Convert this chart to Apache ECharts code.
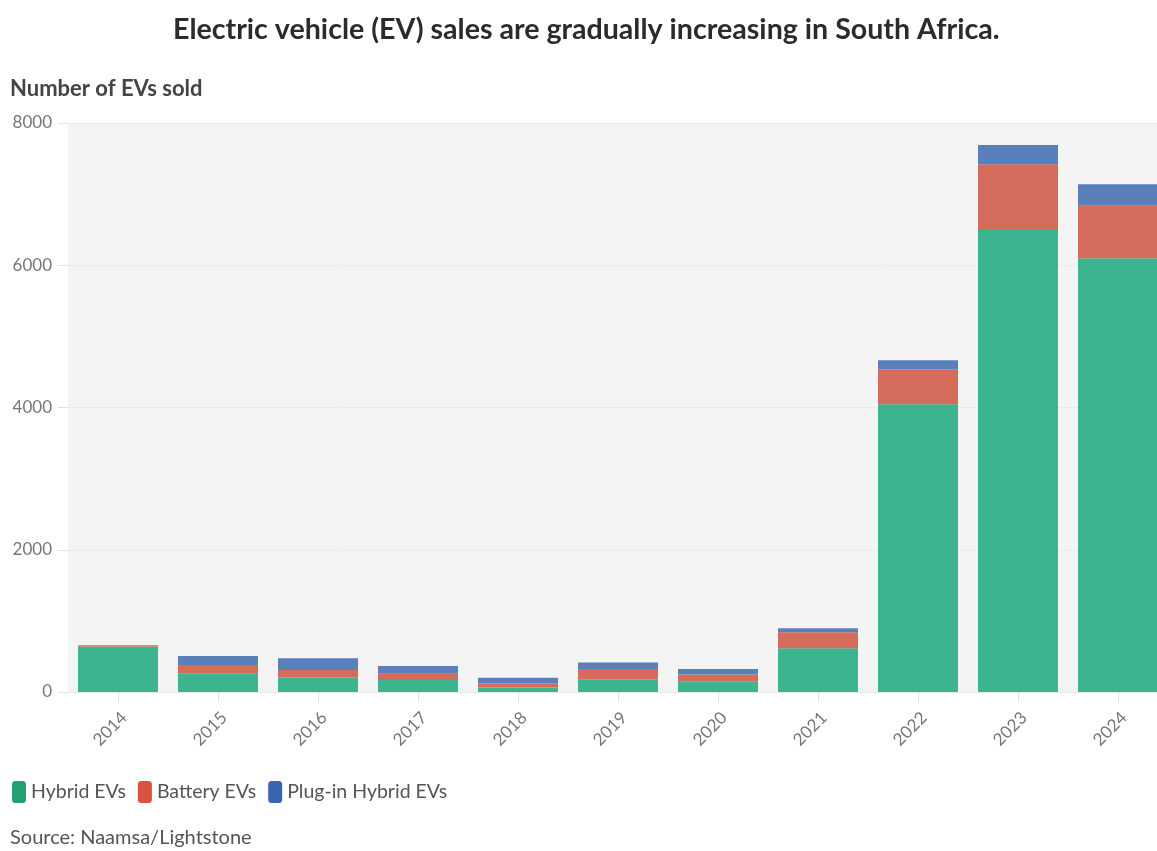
<!DOCTYPE html>
<html>
<head>
<meta charset="utf-8">
<script src="https://cdn.jsdelivr.net/npm/echarts@6/dist/echarts.min.js"></script>
<style>
  html, body { margin: 0; padding: 0; background: #fff; }
  #chart { width: 1157px; height: 851px; }
</style>
</head>
<body>
<div id="chart"></div>
<script>
// years on the x axis
var years = ["2014", "2015", "2016", "2017", "2018", "2019", "2020", "2021", "2022", "2023", "2024"];
// EV sales per type
var hybridEVs = [640, 265, 205, 170, 65, 180, 150, 615, 4045, 6495, 6100];
var batteryEVs = [15, 115, 105, 85, 55, 145, 95, 225, 490, 925, 735];
var pluginHybridEVs = [5, 125, 165, 110, 80, 90, 80, 55, 130, 270, 305];
var yTicks = [0, 2000, 4000, 6000, 8000];

var font = "Lato, 'Noto Sans', sans-serif";
var chart = echarts.init(document.getElementById("chart"));

var option = {
  animation: false,
  textStyle: { fontFamily: font },
  title: [
    {
      text: "Electric vehicle (EV) sales are gradually increasing in South Africa.",
      left: 168,
      top: 10,
      textStyle: { fontSize: 28.6, fontWeight: "bold", color: "#2b2b2b", fontFamily: font }
    },
    {
      text: "Number of EVs sold",
      left: 5,
      top: 73,
      textStyle: { fontSize: 22, fontWeight: "bold", color: "#444", fontFamily: font }
    },
    {
      text: "Source: Naamsa/Lightstone",
      left: 5,
      top: 823,
      textStyle: { fontSize: 20, fontWeight: "normal", color: "#555", fontFamily: font }
    }
  ],
  legend: {
    left: 7,
    top: 776,
    itemWidth: 14,
    itemHeight: 22,
    itemGap: 12,
    icon: "roundRect",
    textStyle: { fontSize: 19.5, color: "#555" },
    data: [
      { name: "Hybrid EVs", itemStyle: { color: "#23a173" } },
      { name: "Battery EVs", itemStyle: { color: "#d9533f" } },
      { name: "Plug-in Hybrid EVs", itemStyle: { color: "#3866b3" } }
    ]
  },
  grid: {
    left: 68,
    right: -11,
    top: 123,
    bottom: 159,
    outerBoundsMode: "none",
    show: true,
    backgroundColor: "#f4f4f4",
    borderWidth: 0
  },
  xAxis: {
    type: "category",
    data: years,
    axisLine: { show: false },
    axisTick: { show: true, alignWithLabel: true, length: 10, lineStyle: { color: "#e2e2e2" } },
    axisLabel: { rotate: 45, verticalAlign: "top", color: "#777", fontSize: 17, margin: 17 }
  },
  yAxis: {
    type: "value",
    min: yTicks[0],
    max: yTicks[yTicks.length - 1],
    interval: 2000,
    axisLine: { show: false },
    axisTick: { show: true, length: 10, lineStyle: { color: "#e2e2e2" } },
    splitLine: { show: true, lineStyle: { color: "#ebebeb" } },
    axisLabel: {
      color: "#777",
      fontSize: 17,
      margin: 16,
      formatter: function (v) { return String(v); }
    }
  },
  series: [
    {
      name: "Hybrid EVs",
      type: "bar",
      stack: "ev",
      barCategoryGap: "20%",
      itemStyle: { color: "#3cb48f" },
      data: hybridEVs
    },
    {
      name: "Battery EVs",
      type: "bar",
      stack: "ev",
      itemStyle: { color: "#d56b5a" },
      data: batteryEVs
    },
    {
      name: "Plug-in Hybrid EVs",
      type: "bar",
      stack: "ev",
      itemStyle: { color: "#5a80bb" },
      data: pluginHybridEVs
    }
  ]
};

chart.setOption(option);
</script>
</body>
</html>
